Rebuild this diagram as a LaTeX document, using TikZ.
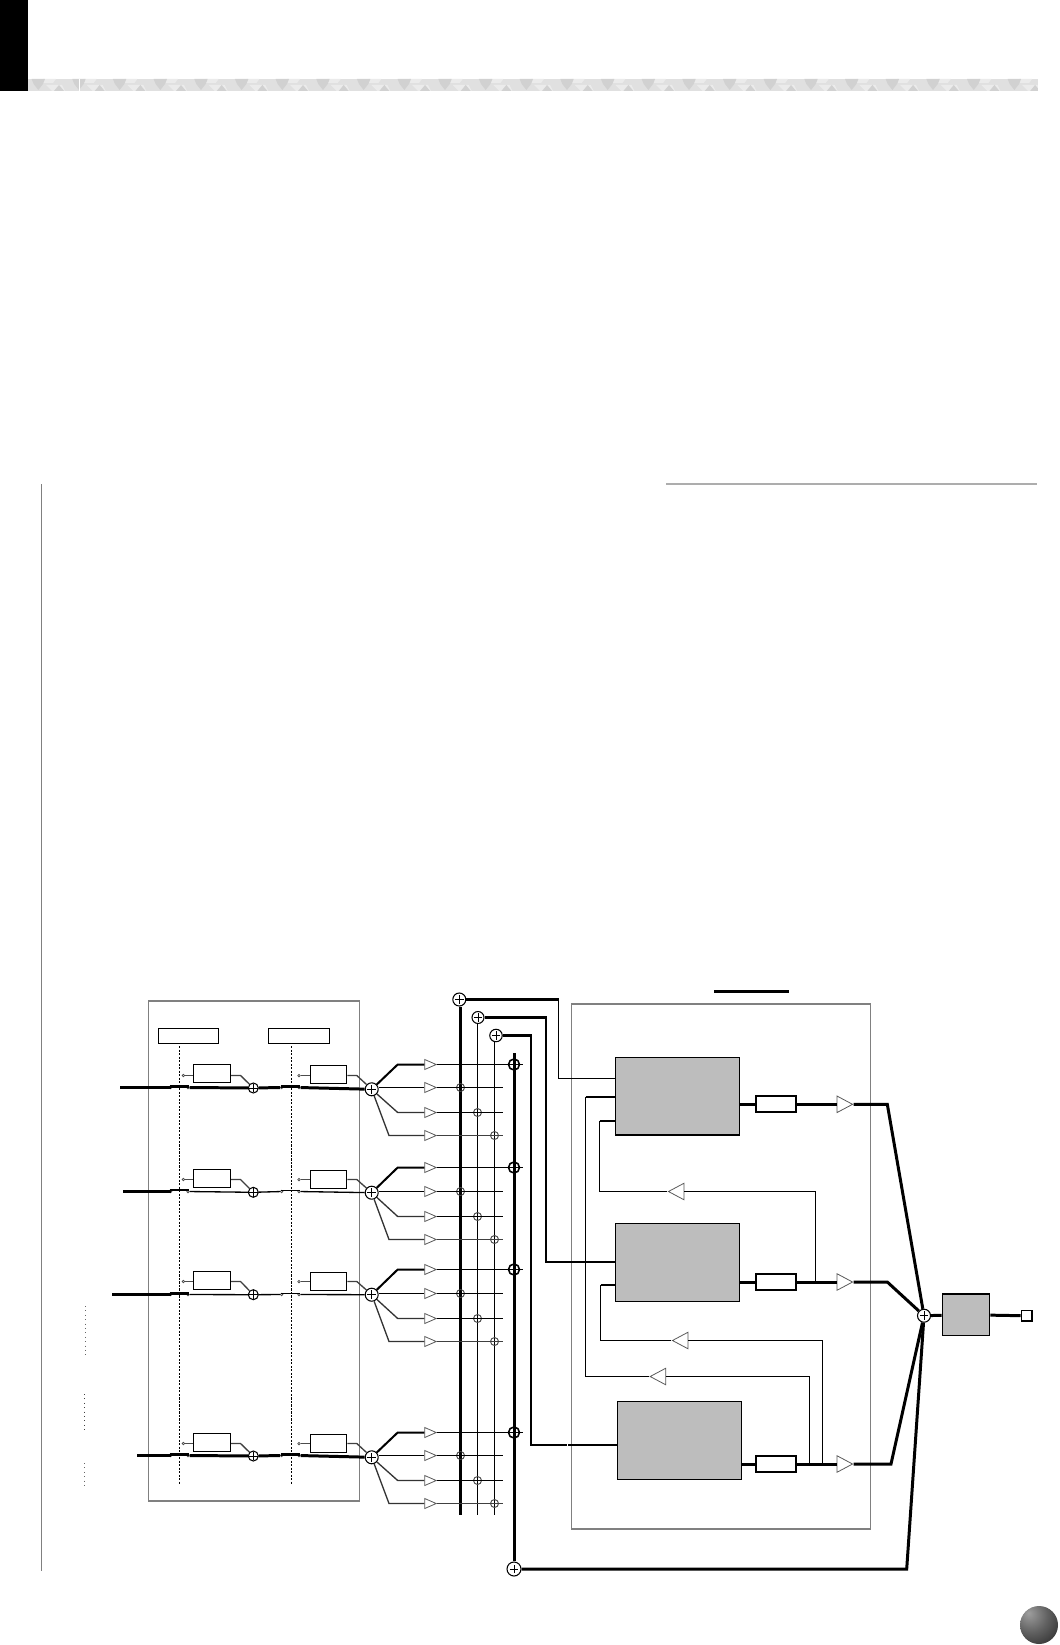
\documentclass[tikz,border=0pt]{standalone}
\usepackage{xcolor}
\usetikzlibrary{shapes.geometric}

\pgfdeclareradialshading{pageball}{\pgfpoint{-14bp}{16bp}}{
  color(0bp)=(black!38); color(22bp)=(black!62); color(50bp)=(black!88); color(100bp)=(black!88)}

\begin{document}
\begin{tikzpicture}[
  x=0.02cm, y=-0.02cm,
  frame/.style={draw=black!50, line width=0.65pt},
  wire/.style={line width=0.75pt, black},
  midwire/.style={line width=1.15pt, black},
  thickwire/.style={line width=1.7pt, black},
  graybox/.style={rectangle, draw=black, fill=black!26, line width=0.7pt, inner sep=0pt},
  smallbox/.style={rectangle, draw=black, fill=white, line width=0.65pt, inner sep=0pt,
                   minimum width=0.74cm, minimum height=0.36cm},
  outbox/.style={rectangle, draw=black, fill=white, line width=1pt, inner sep=0pt,
                 minimum width=0.81cm, minimum height=0.32cm},
  headbox/.style={rectangle, draw=black, fill=white, line width=0.6pt, inner sep=0pt,
                  minimum width=1.2cm, minimum height=0.3cm},
  contact/.style={circle, draw=black!70, fill=white, line width=0.4pt, inner sep=0pt,
                  minimum size=0.05cm},
  sumnode/.style={circle, draw=black, fill=white, line width=0.6pt, inner sep=0pt,
                  minimum size=#1,
                  path picture={
                    \draw[line width=0.55pt]
                      ([xshift=-2.4pt]path picture bounding box.center) --
                      ([xshift=2.4pt]path picture bounding box.center)
                      ([yshift=-2.4pt]path picture bounding box.center) --
                      ([yshift=2.4pt]path picture bounding box.center);}},
  sumnode/.default=0.26cm,
  tapnode/.style={circle, draw=black!75, line width=0.5pt, inner sep=0pt, minimum size=0.16cm},
  amp/.style={isosceles triangle, isosceles triangle stretches, draw=black!65, fill=white,
              line width=0.45pt, inner sep=0pt, minimum width=0.2cm, minimum height=0.23cm},
  outamp/.style={amp, minimum width=0.33cm, minimum height=0.31cm},
  backamp/.style={outamp, shape border rotate=180}
]
\useasboundingbox (0,0) rectangle (1059,1645);

% page header
\fill[black] (0,0) rectangle (28,91);
\fill[black!12] (28,79) rectangle (1038,91);
\foreach \k in {0,...,24} {
  \fill[black!8] (43+40.67*\k,79) -- (56+40.67*\k,79) -- (53+40.67*\k,83) -- (40+40.67*\k,83) -- cycle;
  \fill[black!8] (46+40.67*\k,85) -- (62+40.67*\k,85) -- (65+40.67*\k,91) -- (52+40.67*\k,91) -- cycle;
  \fill[black!18] (31.6+40.67*\k,79) -- (45+40.67*\k,79) -- (43+40.67*\k,84) -- (38.3+40.67*\k,90) -- (33.6+40.67*\k,84) -- cycle;
  \fill[black!18] (59+40.67*\k,85) -- (64+40.67*\k,91) -- (54+40.67*\k,91) -- cycle;
}
\fill[white] (79,79) rectangle (80,91);
\fill[white] (1038,79) rectangle (1059,91);

% page rules
\draw[black!32, line width=1.1pt] (666,484) -- (1037,484);
\draw[black!50, line width=0.55pt] (41,484) -- (41,1571);
\draw[black, line width=1.7pt] (714,991) -- (789,991);
\draw[black!60, line width=0.5pt, dotted] (85,1306) -- (85,1357);
\draw[black!75, line width=0.5pt, dotted] (84.5,1394) -- (84.5,1430);
\draw[black!60, line width=0.5pt, dotted] (84.5,1463) -- (84.5,1485);

% group frames
\node[frame, rectangle, inner sep=0pt, minimum width=4.21cm, minimum height=10cm] (inframe) at (254,1251) {};
\node[frame, rectangle, inner sep=0pt, minimum width=5.98cm, minimum height=10.5cm] (fxframe) at (720.9,1266.5) {};

% scene headers
\node[headbox] (headA) at (188.4,1036) {};
\node[headbox, minimum width=1.22cm] (headB) at (298.9,1036) {};
\coordinate (dashA) at (179.5,1484);
\coordinate (dashB) at (291.5,1484);
\draw[black, line width=0.6pt, dash pattern=on 1.2pt off 0.8pt] (179.5,1046) -- (dashA);
\draw[black, line width=0.6pt, dash pattern=on 1.2pt off 0.8pt] (291.5,1046) -- (dashB);

% summing points of the busses
\node[sumnode] (sumbusA) at (459.3,999.5) {};
\node[sumnode=0.24cm] (sumbusB) at (478,1017.5) {};
\node[sumnode=0.25cm] (sumbusC) at (496,1035.5) {};
\node[sumnode=0.28cm] (sumbusD) at (514,1569) {};
\coordinate (busAend) at (460.5,1514.7);
\coordinate (busBend) at (477.5,1514.7);
\coordinate (busCend) at (494.5,1514.7);
\coordinate (busDtop) at (514,1053.3);
\draw[midwire] (sumbusA.south -| busAend) -- (busAend);
\draw[wire] (sumbusB.south -| busBend) -- (busBend);
\draw[wire] (sumbusC.south -| busCend) -- (busCend);
\draw[thickwire] (busDtop) -- (sumbusD);

% four input strips
\foreach \r/\ybase/\ysum/\ybig/\ybox/\ytop/\xin/\wa/\wb in {
  a/1087.5/1088/1089.3/1073.5/1075.5/120/1.7/1.7,
  b/1191.5/1192.3/1192.7/1178.5/1179.5/123/1.2/0.75,
  c/1294.5/1294.7/1294.7/1280.3/1281.5/112/1.7/0.75,
  d/1455.5/1456/1457.3/1442.5/1443.5/137/1.7/1.7} {
  \pgfmathsetmacro{\yA}{floor(\ybig-25)+0.5}
  \pgfmathsetmacro{\yB}{floor(\ybig-1.6)+0.5}
  \pgfmathsetmacro{\yC}{floor(\ybig+23.3)+0.5}
  \pgfmathsetmacro{\yD}{floor(\ybig+46.4)+0.5}

  \node[smallbox] (fxA\r) at (212,\ybox) {};
  \node[smallbox, minimum width=0.73cm] (fxB\r) at (328.5,\ybox+1) {};
  \node[sumnode=0.2cm] (sumA\r) at (253.3,\ysum) {};
  \node[sumnode] (sumB\r) at (371.7,\ybig) {};
  \node[contact] (inA\r) at (170.7,\ybase) {};
  \node[contact] (outA\r) at (188,\ybase) {};
  \node[contact] (topA\r) at (183.3,\ytop) {};
  \node[contact] (inB\r) at (281.7,\ybase) {};
  \node[contact] (outB\r) at (299,\ybase) {};
  \node[contact] (topB\r) at (299,\ytop) {};
  \node[amp] (ampA\r) at (428,\yA) {};
  \node[amp] (ampB\r) at (428,\yB) {};
  \node[amp] (ampC\r) at (428,\yC) {};
  \node[amp] (ampD\r) at (428,\yD) {};
  \node[tapnode, minimum size=0.22cm, draw=black, line width=0.9pt] (tapA\r) at (514,\yA) {};
  \node[tapnode] (tapB\r) at (460.5,\yB) {};
  \node[tapnode] (tapC\r) at (477.5,\yC) {};
  \node[tapnode] (tapD\r) at (494.5,\yD) {};
  \coordinate (inlet\r) at (\xin,\ybase);
  \coordinate (kneeA\r) at (397.7,\yA);
  \coordinate (kneeC\r) at (397.7,\yC);
  \coordinate (kneeD\r) at (389,\yD);
  \coordinate (endA\r) at (523.3,\yA);
  \coordinate (endB\r) at (502.7,\yB);
  \coordinate (endC\r) at (502.7,\yC);
  \coordinate (endD\r) at (502.7,\yD);

  \draw[black, line width=\wa pt] (inlet\r) -- (inA\r.center);
  \draw[black, line width=\wa pt] (inA\r.north west) -- (outA\r.north east);
  \draw[black, line width=\wb pt] (outA\r) -- (sumA\r);
  \draw[black, line width=\wb pt] (sumA\r) -- (inB\r);
  \draw[black, line width=\wb pt] (inB\r.north west) -- (outB\r.north east);
  \draw[black, line width=\wb pt] (outB\r) -- (sumB\r);
  \draw[wire, black!70] (topA\r) -- (topA\r -| fxA\r.west);
  \draw[wire, black!70] (topB\r) -- (topB\r -| fxB\r.west);
  \draw[wire, black!75] (fxA\r.east |- topA\r) -- ++(9.5,0) -- (sumA\r);
  \draw[wire, black!75] (fxB\r.east |- topB\r) -- ++(9.5,0) -- (sumB\r);
  \draw[midwire] (sumB\r) -- (kneeA\r) -- (ampA\r);
  \draw[wire] (ampB\r -| sumB\r.east) -- (ampB\r);
  \draw[wire, black!80] (sumB\r) -- (kneeC\r) -- (ampC\r);
  \draw[wire, black!80] (sumB\r) -- (kneeD\r) -- (ampD\r);
  \draw[wire] (ampA\r.apex) -- (endA\r);
  \draw[wire] (ampB\r.apex) -- (endB\r);
  \draw[wire] (ampC\r.apex) -- (endC\r);
  \draw[wire, black!75] (ampD\r.apex) -- (endD\r);
}

% effect blocks
\node[graybox, minimum width=2.48cm, minimum height=1.55cm] (fxone) at (677.7,1096.3) {};
\node[graybox, minimum width=2.48cm, minimum height=1.56cm] (fxtwo) at (677.7,1262.3) {};
\node[graybox, minimum width=2.48cm, minimum height=1.56cm] (fxthree) at (679.5,1440.3) {};

\node[outbox] (outone) at (776,1104.3) {};
\node[outbox] (outtwo) at (776,1282) {};
\node[outbox] (outthree) at (776,1464) {};
\node[outamp] (ampone) at (842,1104.3) {};
\node[outamp] (amptwo) at (842,1282) {};
\node[outamp] (ampthree) at (842,1464) {};

\node[backamp] (backone) at (679,1191.5) {};
\node[backamp] (backtwo) at (683,1340.5) {};
\node[backamp] (backthree) at (660.7,1376.5) {};

\node[sumnode] (summain) at (924,1315.7) {};
\node[graybox, minimum width=0.95cm, minimum height=0.83cm, line width=0.7pt] (master) at (966,1314.7) {};
\node[rectangle, draw=black, fill=white, line width=1pt, inner sep=0pt, minimum size=0.21cm] (jack) at (1026.8,1315.8) {};

% bus sends
\coordinate (sendA) at (558.5,999.5);
\coordinate (sendAlow) at (558.5,1078.5);
\coordinate (sendB) at (545.7,1017.5);
\coordinate (sendBlow) at (545.7,1261.6);
\coordinate (sendC) at (531,1035.5);
\coordinate (sendClow) at (531,1445);
\coordinate (gapleft) at (566.6,1445);
\coordinate (gapright) at (568.2,1445);
\draw[midwire] (sumbusA) -- (sendA);
\draw[wire] (sendA) -- (sendAlow) -- (sendAlow -| fxone.west);
\draw[midwire] (sumbusB) -- (sendB) -- (sendBlow) -- (sendBlow -| fxtwo.west);
\draw[midwire] (sumbusC) -- (sendC) -- (sendClow) -- (gapleft);
\draw[midwire] (gapright) -- (gapright -| fxthree.west);

% outputs
\coordinate (kneeone) at (887.3,1104.3);
\coordinate (kneetwo) at (887.3,1282);
\coordinate (kneethree) at (891,1464);
\coordinate (kneeback) at (906.7,1569);
\draw[thickwire] (outone -| fxone.east) -- (outone);
\draw[thickwire] (outtwo -| fxtwo.east) -- (outtwo);
\draw[thickwire] (outthree -| fxthree.east) -- (outthree);
\draw[thickwire] (outone) -- (ampone);
\draw[thickwire] (outtwo) -- (amptwo);
\draw[thickwire] (outthree) -- (ampthree);
\draw[thickwire] (ampone.apex) -- (kneeone) -- (summain);
\draw[thickwire] (amptwo.apex) -- (kneetwo) -- (summain);
\draw[thickwire] (ampthree.apex) -- (kneethree) -- (summain);
\draw[thickwire] (sumbusD) -- (kneeback) -- (summain);
\draw[thickwire] (summain) -- (master);
\draw[thickwire] (master) -- (jack);

% feedback paths
\coordinate (tapone) at (815.5,1281);
\coordinate (taptwo) at (822.5,1463);
\coordinate (tapthree) at (809.5,1463);
\coordinate (upone) at (815.5,1191.5);
\coordinate (uptwo) at (822.5,1340.5);
\coordinate (upthree) at (809.5,1376.5);
\coordinate (leftone) at (599.5,1191.5);
\coordinate (lefttwo) at (600.5,1340.5);
\coordinate (leftthree) at (585.5,1376.5);
\coordinate (inone) at (599.5,1121);
\coordinate (intwo) at (600.5,1285);
\coordinate (inthree) at (585.5,1096.7);
\draw[wire] (tapone) -- (upone) -- (backone);
\draw[wire] (taptwo) -- (uptwo) -- (backtwo);
\draw[wire] (tapthree) -- (upthree) -- (backthree);
\draw[wire] (backone.apex) -- (leftone) -- (inone);
\draw[wire] (backtwo.apex) -- (lefttwo) -- (intwo);
\draw[wire] (backthree.apex) -- (leftthree) -- (inthree);
\draw[midwire] (inone) -- (inone -| fxone.west);
\draw[wire] (intwo) -- (intwo -| fxtwo.west);
\draw[midwire] (inthree) -- (inthree -| fxone.west);

% page ball
\shade[shading=pageball] (1039,1625) circle (19);
\end{tikzpicture}
\end{document}
